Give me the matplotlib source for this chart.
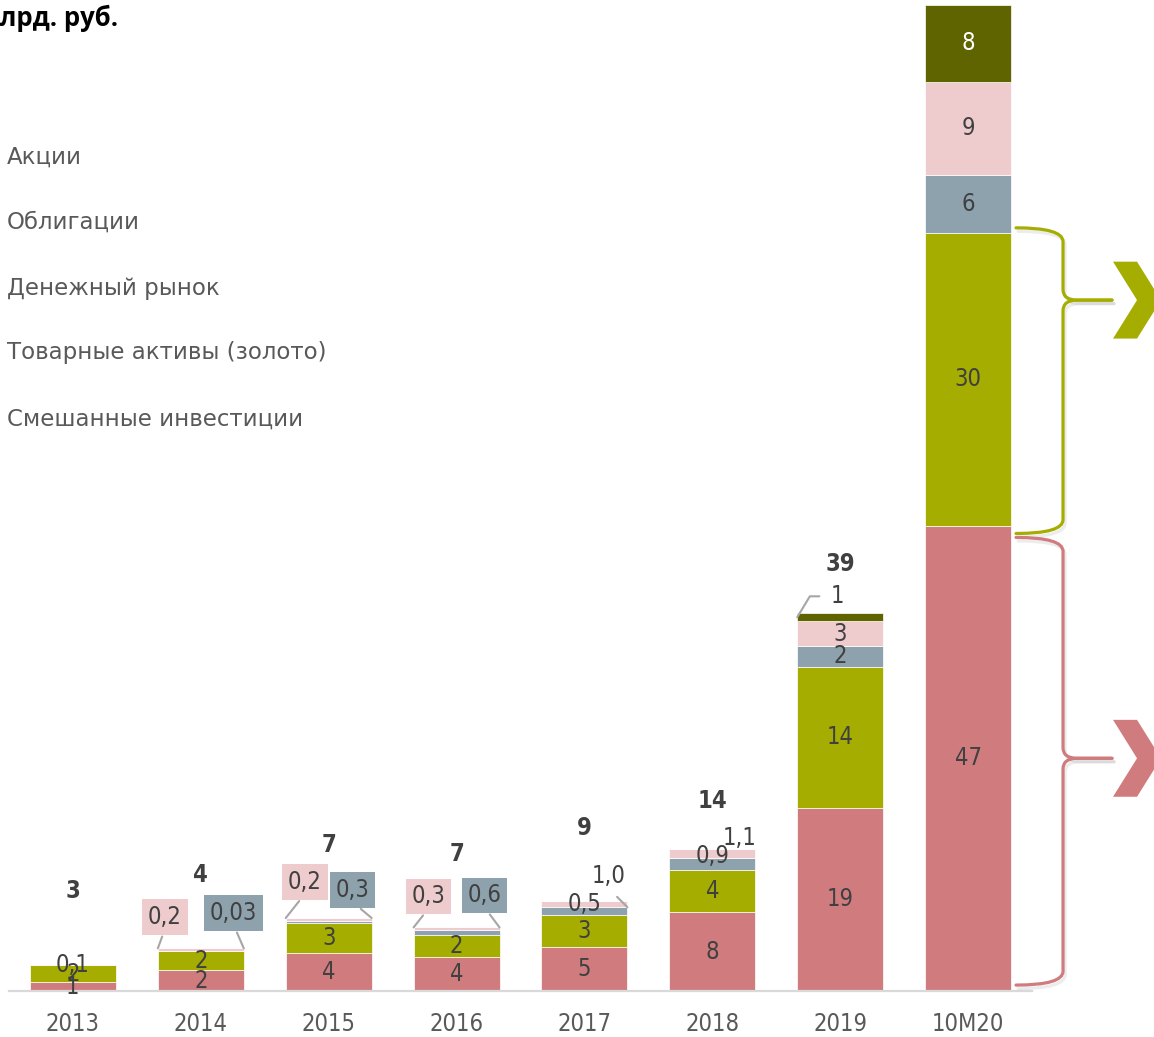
import matplotlib
matplotlib.use('Agg')
import matplotlib.pyplot as plt
from matplotlib.path import Path
from matplotlib.patches import PathPatch, Polygon
import matplotlib.patheffects as pe

# ---------------- data ----------------
categories = ['2013', '2014', '2015', '2016', '2017', '2018', '2019', '10M20']
series_names = ['Акции', 'Облигации', 'Денежный рынок',
                'Товарные активы (золото)', 'Смешанные инвестиции']
akcii = [0.9, 2.1, 3.85, 3.45, 4.5, 8.0, 18.6, 47.2]
obligacii = [1.7, 1.95, 3.05, 2.2, 3.2, 4.3, 14.3, 29.7]
den_rynok = [0.0, 0.03, 0.25, 0.5, 0.8, 1.2, 2.1, 5.9]
zoloto = [0.1, 0.25, 0.25, 0.3, 0.6, 0.9, 2.5, 9.4]
smesh = [0.0, 0.0, 0.0, 0.0, 0.0, 0.0, 0.8, 7.8]

lbl_akcii = ['1', '2', '4', '4', '5', '8', '19', '47']
lbl_obl = ['2', '2', '3', '2', '3', '4', '14', '30']
lbl_den = [None, '0,03', '0,3', '0,6', '0,5', '0,9', '2', '6']
lbl_zol = ['0,1', '0,2', '0,2', '0,3', '1,0', '1,1', '3', '9']
lbl_smesh = [None, None, None, None, None, None, '1', '8']
totals_lbl = ['3', '4', '7', '7', '9', '14', '39', None]

title_text = 'млрд. руб.'

# ---------------- style ----------------
plt.rcParams['font.family'] = ['DejaVu Sans']
plt.rcParams['font.stretch'] = 'condensed'
C_RED = '#D07C7E'
C_GREEN = '#A5AE00'
C_GRAY = '#8EA2AE'
C_PINK = '#EECBCD'
C_OLIVE = '#5F6400'
colors = [C_RED, C_GREEN, C_GRAY, C_PINK, C_OLIVE]
TXT = '#404040'
TICK = '#595959'
LEAD = '#A6A6A6'
FS = 17

W, H = 1154, 1037
fig = plt.figure(figsize=(W / 100, H / 100), dpi=100)
ax = fig.add_axes([9 / W, 46 / H, 1023 / W, 986 / H])

series = [akcii, obligacii, den_rynok, zoloto, smesh]
labels = [lbl_akcii, lbl_obl, lbl_den, lbl_zol, lbl_smesh]
x = list(range(len(categories)))
bw = 0.672
bottoms = [0.0] * len(categories)
seg = []  # (bottom, top) per series per bar
for s, c in zip(series, colors):
    ax.bar(x, s, bw, bottom=bottoms, color=c, edgecolor='white', linewidth=0.5, zorder=2)
    seg.append([(b, b + v) for b, v in zip(bottoms, s)])
    bottoms = [b + v for b, v in zip(bottoms, s)]
totals = bottoms

ax.set_xlim(-0.5, len(categories) - 0.5)
ax.set_ylim(0, totals[-1])
for sp in ['top', 'right', 'left']:
    ax.spines[sp].set_visible(False)
ax.spines['bottom'].set_color('#D9D9D9')
ax.spines['bottom'].set_linewidth(1.6)
ax.set_yticks([])
ax.set_xticks(x)
ax.set_xticklabels(categories, fontsize=FS, color=TICK)
ax.tick_params(axis='x', length=0, pad=15)

# ---------------- segment labels ----------------
# special placements: (series, bar) -> (anchor, dx_px, dy_px, box, leader)
special = {
    (3, 1): ('left_top', 7, 31, C_PINK, 'bottom'),
    (2, 1): ('right_top', -10, 35, C_GRAY, 'bottom'),
    (3, 2): ('left_top', 19, 36, C_PINK, 'bottom'),
    (2, 2): ('right_top', -19, 28, C_GRAY, 'bottom'),
    (3, 3): ('left_top', 15, 31, C_PINK, 'bottom'),
    (2, 3): ('right_top', -15, 32, C_GRAY, 'bottom'),
    (3, 4): ('right_seg', -19, 31, None, 'bottom'),
    (2, 4): ('center', 0, 7, None, None),
    (2, 5): ('center', 0, 8, None, None),
    (3, 5): ('center', 27, 15, None, None),
    (4, 6): ('left_seg', 40, 21, None, 'angle'),
}

for si, (lbls, segs) in enumerate(zip(labels, seg)):
    for bi, lab in enumerate(lbls):
        if lab is None:
            continue
        b, t = segs[bi]
        cy = (b + t) / 2
        col = 'white' if si == 4 and bi == 7 else TXT
        if (si, bi) not in special:
            ax.text(bi, cy, lab, ha='center', va='center', fontsize=FS, color=col, zorder=5)
            continue
        anchor, dx, dy, box, leader = special[(si, bi)]
        if anchor == 'left_top':
            xy = (bi - bw / 2, totals[bi])
        elif anchor == 'right_top':
            xy = (bi + bw / 2, totals[bi])
        elif anchor == 'right_seg':
            xy = (bi + bw / 2, b)
        elif anchor == 'left_seg':
            xy = (bi - bw / 2, cy)
        else:
            xy = (bi, cy)
        kw = dict(xy=xy, xytext=(dx, dy), textcoords='offset pixels',
                  ha='center', va='center', fontsize=FS, color=col, zorder=6,
                  annotation_clip=False)
        if box is not None:
            kw['bbox'] = dict(boxstyle='square,pad=0.25', fc=box, ec='none')
        if leader == 'bottom':
            kw['arrowprops'] = dict(arrowstyle='-', color=LEAD, lw=1.5,
                                    shrinkA=1 if box else 6, shrinkB=0,
                                    relpos=(0.5, 0.0))
        elif leader == 'angle':
            kw['arrowprops'] = dict(arrowstyle='-', color=LEAD, lw=1.5,
                                    shrinkA=6, shrinkB=0, relpos=(0.0, 0.5),
                                    connectionstyle='angle,angleA=0,angleB=59,rad=0')
        ax.annotate(lab, **kw)

# total labels
tot_off = [73, 73, 73, 73, 73, 48, 49, 0]
for bi, lab in enumerate(totals_lbl):
    if lab is None:
        continue
    ax.annotate(lab, xy=(bi, totals[bi]), xytext=(0, tot_off[bi]), textcoords='offset pixels',
                ha='center', va='center', fontsize=FS, fontweight='bold', color=TXT,
                annotation_clip=False)

# ---------------- legend (text only) ----------------
leg_y = [157, 222, 288, 353, 419]
for name, yy in zip(series_names, leg_y):
    fig.text(7 / W, 1 - yy / H, name, ha='left', va='center', fontsize=16.5, color=TICK,
             fontstretch='normal')

# title fragment (cut at the top-left edge)
fig.text(118 / W, 1 - 26 / H, title_text, ha='right', va='baseline',
         fontsize=18.5, fontweight='bold', color='black', family='Open Sans',
         fontstretch='normal')

# ---------------- braces & chevrons for last bar ----------------
px_per_x = 1023 / len(categories)
def dxp(p):
    return p / px_per_x

last = len(categories) - 1
xs = last + bw / 2 + dxp(5)
xv = last + bw / 2 + dxp(52)
xt = last + bw / 2 + dxp(101)

def brace(yt, yb, yc, color, r=1.4, rc=1.1, dxc=dxp(14)):
    shadow = [pe.SimpleLineShadow(offset=(1.5, -2.5), alpha=0.15, shadow_color='gray'), pe.Normal()]
    up = Path([(xs, yt), (xv, yt), (xv, yt - r), (xv, yc + rc), (xv, yc), (xv + dxc, yc), (xt, yc)],
              [Path.MOVETO, Path.CURVE3, Path.CURVE3, Path.LINETO, Path.CURVE3, Path.CURVE3, Path.LINETO])
    lo = Path([(xs, yb), (xv, yb), (xv, yb + r), (xv, yc - rc), (xv, yc), (xv + dxc, yc), (xt, yc)],
              [Path.MOVETO, Path.CURVE3, Path.CURVE3, Path.LINETO, Path.CURVE3, Path.CURVE3, Path.LINETO])
    for p in (up, lo):
        ax.add_patch(PathPatch(p, fill=False, ec=color, lw=2.3, clip_on=False,
                               capstyle='round', joinstyle='round', path_effects=shadow, zorder=3))

def chevron(yc, color, half=3.9):
    x0 = last + bw / 2 + dxp(102)
    x1 = x0 + dxp(24)
    x2 = x1 + dxp(24)
    pts = [(x0, yc + half), (x1, yc + half), (x2, yc), (x1, yc - half), (x0, yc - half), (x1, yc)]
    ax.add_patch(Polygon(pts, closed=True, fc=color, ec='none', clip_on=False, zorder=3))

g_b, g_t = seg[1][last]
r_b, r_t = seg[0][last]
g_c = g_t - 0.23 * (g_t - g_b)
brace(g_t + 0.5, g_b - 0.8, g_c, C_GREEN)
chevron(g_c, C_GREEN)
r_c = (r_b + r_t) / 2
brace(r_t - 1.2, r_b + 0.6, r_c, C_RED)
chevron(r_c, C_RED)

fig.savefig('out.png', dpi=100)
